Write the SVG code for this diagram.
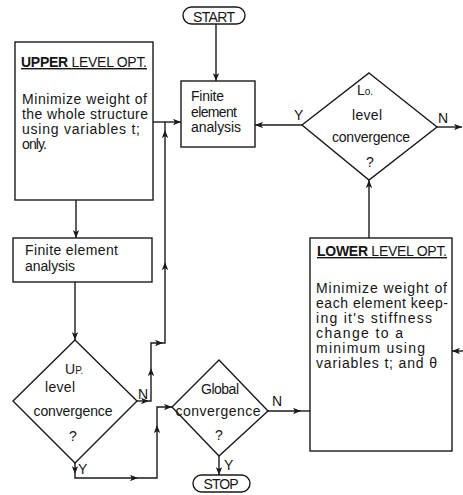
<svg xmlns="http://www.w3.org/2000/svg" width="463" height="495" viewBox="0 0 463 495">
<style>
.b{fill:#fff;stroke:#1a1a1a;stroke-width:1.4}
.t{font-family:"Liberation Sans",Arial,sans-serif;font-size:14px;fill:#151515}
.m{text-anchor:middle}
.c{fill:none;stroke:#1a1a1a;stroke-width:1.4}
</style>
<defs>
<marker id="a" viewBox="0 0 10 8" refX="10" refY="4" markerWidth="8" markerHeight="6.4" markerUnits="userSpaceOnUse" orient="auto">
<path d="M0,0 L10,4 L0,8 L2.5,4 z" fill="#1a1a1a"/>
</marker>
</defs>
<rect width="463" height="495" fill="#fff"/>
<g id="start">
<rect class="b" x="183" y="7" width="62" height="17" rx="8.5"/>
<text class="t m" x="214" y="21.5" textLength="42">START</text>
</g>
<g id="fe1">
<rect class="b" x="181" y="81" width="74" height="66"/>
<text class="t" x="191" y="101" textLength="33">Finite</text>
<text class="t" x="191" y="117" textLength="46">element</text>
<text class="t" x="191" y="132" textLength="50">analysis</text>
</g>
<g id="upper">
<rect class="b" x="15" y="42" width="138" height="158"/>
<text class="t" x="21" y="67" textLength="126" text-decoration="underline"><tspan font-weight="bold">UPPER</tspan> LEVEL OPT.</text>
<text class="t" x="22" y="104" textLength="125">Minimize weight of</text>
<text class="t" x="22" y="119" textLength="126">the whole structure</text>
<text class="t" x="22" y="134" textLength="118">using variables t;</text>
<text class="t" x="22" y="149" textLength="25">only.</text>
</g>
<g id="lo">
<polygon class="b" points="369,73 437,127 369,180 302,125"/>
<text class="t" x="357" y="95" font-size="12">L<tspan font-size="10">o.</tspan></text>
<text class="t m" x="367" y="120" textLength="30">level</text>
<text class="t m" x="371" y="142" textLength="78">convergence</text>
<text class="t m" x="370" y="167">?</text>
</g>
<g id="lower">
<rect class="b" x="310" y="238" width="142" height="213"/>
<text class="t" x="317" y="256" textLength="130" text-decoration="underline"><tspan font-weight="bold">LOWER</tspan> LEVEL OPT.</text>
<text class="t" x="316" y="293" textLength="131">Minimize weight of</text>
<text class="t" x="316" y="308" textLength="132">each element keep-</text>
<text class="t" x="316" y="323" textLength="116">ing it's stiffness</text>
<text class="t" x="316" y="338" textLength="87">change to a</text>
<text class="t" x="316" y="353" textLength="109">minimum using</text>
<text class="t" x="316" y="368" textLength="121">variables t; and θ</text>
</g>
<g id="fe2">
<rect class="b" x="13" y="238" width="139" height="44"/>
<text class="t" x="25" y="255" font-size="13.5" textLength="93">Finite element</text>
<text class="t" x="25" y="271" font-size="13.5" textLength="50">analysis</text>
</g>
<g id="up">
<polygon class="b" points="75,340 137,401 75,463 13,401"/>
<text class="t" x="65" y="374">U<tspan font-size="10">P.</tspan></text>
<text class="t m" x="60" y="392" textLength="30">level</text>
<text class="t m" x="73" y="416" textLength="79">convergence</text>
<text class="t m" x="73" y="441">?</text>
</g>
<g id="global">
<polygon class="b" points="219,360 268,411 219,456 172,407"/>
<text class="t m" x="220" y="394" textLength="38">Global</text>
<text class="t m" x="218" y="416" textLength="85">convergence</text>
<text class="t m" x="219" y="440">?</text>
</g>
<g id="stop">
<rect class="b" x="193" y="475" width="57" height="17" rx="8.5"/>
<text class="t m" x="221" y="489" textLength="35">STOP</text>
</g>
<g id="connectors">
<path class="c" d="M216,24 V81" marker-end="url(#a)"/>
<path class="c" d="M153,122 H181" marker-end="url(#a)"/>
<path class="c" d="M302,125 H255" marker-end="url(#a)"/>
<path class="c" d="M437,127 H462" marker-end="url(#a)"/>
<path class="c" d="M369,238 V180" marker-end="url(#a)"/>
<path class="c" d="M463,351 H452" marker-end="url(#a)"/>
<path class="c" d="M76,200 V238" marker-end="url(#a)"/>
<path class="c" d="M75,282 V340" marker-end="url(#a)"/>
<path class="c" d="M137,401 H149" marker-end="url(#a)"/>
<path class="c" d="M149,401 H151 V368" marker-end="url(#a)"/>
<path class="c" d="M151,368 V343 H163" marker-end="url(#a)"/>
<path class="c" d="M163,343 H165 V262" marker-end="url(#a)"/>
<path class="c" d="M165,262 V130" marker-end="url(#a)"/>
<path class="c" d="M165,130 V122"/>
<path class="c" d="M75,463 V474" marker-end="url(#a)"/>
<path class="c" d="M75,474 V478 H138" marker-end="url(#a)"/>
<path class="c" d="M138,478 H157 V425" marker-end="url(#a)"/>
<path class="c" d="M157,425 V407 H172" marker-end="url(#a)"/>
<path class="c" d="M268,411 H301" marker-end="url(#a)"/>
<path class="c" d="M301,411 H310"/>
<path class="c" d="M219,456 V475" marker-end="url(#a)"/>
<text class="t" x="294" y="120">Y</text>
<text class="t" x="438" y="123">N</text>
<text class="t" x="138" y="399">N</text>
<text class="t" x="78" y="474">Y</text>
<text class="t" x="272" y="406">N</text>
<text class="t" x="224" y="470">Y</text>
</g>
</svg>
